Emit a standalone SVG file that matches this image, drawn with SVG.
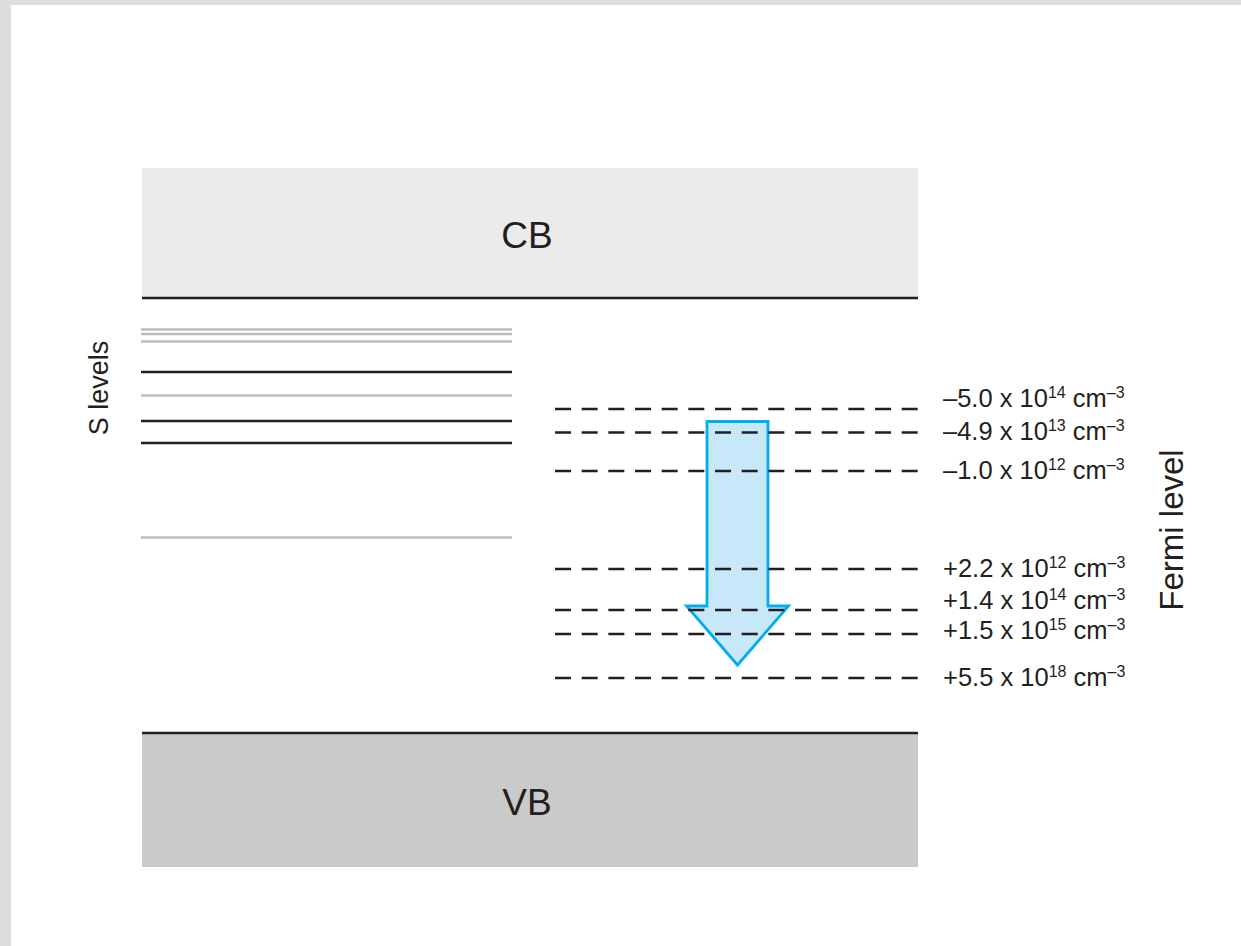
<svg xmlns="http://www.w3.org/2000/svg" width="1241" height="946" viewBox="0 0 1241 946">
<style>
text{font-family:"Liberation Sans",Arial,sans-serif;fill:#231f20}
.lab{font-size:25.5px}
.sup{font-size:16px}
.blk{stroke:#231f20;stroke-width:2.5}
.gry{stroke:#bdbdc0;stroke-width:2.5}
.dash{stroke:#231f20;stroke-width:2.5;stroke-dasharray:16 10.67}
</style>
<rect x="0" y="0" width="1241" height="946" fill="#ffffff"/>
<rect x="0" y="0" width="1241" height="5" fill="#dcdddf"/>
<rect x="0" y="0" width="11" height="946" fill="#dcdddf"/>
<g id="cb">
<rect x="142" y="168" width="776" height="130" fill="#ebebeb"/>
<line class="blk" x1="142" y1="298" x2="918" y2="298"/>
<text x="527" y="248" font-size="37" text-anchor="middle">CB</text>
</g>
<g id="vb">
<rect x="142" y="733" width="776" height="134" fill="#cacaca"/>
<line class="blk" x1="142" y1="733" x2="918" y2="733"/>
<text x="527" y="815" font-size="37" text-anchor="middle">VB</text>
</g>
<g id="s-levels">
<line class="gry" x1="141" y1="329.5" x2="512" y2="329.5"/>
<line class="gry" x1="141" y1="334" x2="512" y2="334"/>
<line class="gry" x1="141" y1="341.5" x2="512" y2="341.5"/>
<line class="blk" x1="141" y1="372" x2="512" y2="372"/>
<line class="gry" x1="141" y1="395.5" x2="512" y2="395.5"/>
<line class="blk" x1="141" y1="421" x2="512" y2="421"/>
<line class="blk" x1="141" y1="443" x2="512" y2="443"/>
<line class="gry" x1="141" y1="537.5" x2="512" y2="537.5"/>
<text transform="translate(108,388) rotate(-90)" font-size="27" text-anchor="middle">S levels</text>
</g>
<g id="arrow">
<path d="M707,421.5 L768,421.5 L768,606 L788.5,606 L737.5,665 L686.5,606 L707,606 Z" fill="#c7e8f8" stroke="#00aeef" stroke-width="2.8" stroke-linejoin="miter"/>
</g>
<g id="connectors">
<line class="dash" x1="555" y1="409" x2="918" y2="409"/>
<line class="dash" x1="555" y1="432.5" x2="918" y2="432.5"/>
<line class="dash" x1="555" y1="471" x2="918" y2="471"/>
<line class="dash" x1="555" y1="569" x2="918" y2="569"/>
<line class="dash" x1="555" y1="610" x2="918" y2="610"/>
<line class="dash" x1="555" y1="634" x2="918" y2="634"/>
<line class="dash" x1="555" y1="678" x2="918" y2="678"/>
</g>
<g id="labels">
<text class="lab" x="943" y="407">–5.0 x 10<tspan class="sup" dy="-9">14</tspan><tspan dy="9"> cm</tspan><tspan class="sup" dy="-9">–3</tspan></text>
<text class="lab" x="943" y="440">–4.9 x 10<tspan class="sup" dy="-9">13</tspan><tspan dy="9"> cm</tspan><tspan class="sup" dy="-9">–3</tspan></text>
<text class="lab" x="943" y="479">–1.0 x 10<tspan class="sup" dy="-9">12</tspan><tspan dy="9"> cm</tspan><tspan class="sup" dy="-9">–3</tspan></text>
<text class="lab" x="943" y="577">+2.2 x 10<tspan class="sup" dy="-9">12</tspan><tspan dy="9"> cm</tspan><tspan class="sup" dy="-9">–3</tspan></text>
<text class="lab" x="943" y="609">+1.4 x 10<tspan class="sup" dy="-9">14</tspan><tspan dy="9"> cm</tspan><tspan class="sup" dy="-9">–3</tspan></text>
<text class="lab" x="943" y="639">+1.5 x 10<tspan class="sup" dy="-9">15</tspan><tspan dy="9"> cm</tspan><tspan class="sup" dy="-9">–3</tspan></text>
<text class="lab" x="943" y="686">+5.5 x 10<tspan class="sup" dy="-9">18</tspan><tspan dy="9"> cm</tspan><tspan class="sup" dy="-9">–3</tspan></text>
</g>
<g id="fermi">
<text transform="translate(1183,530) rotate(-90)" font-size="33" text-anchor="middle">Fermi level</text>
</g>
</svg>
